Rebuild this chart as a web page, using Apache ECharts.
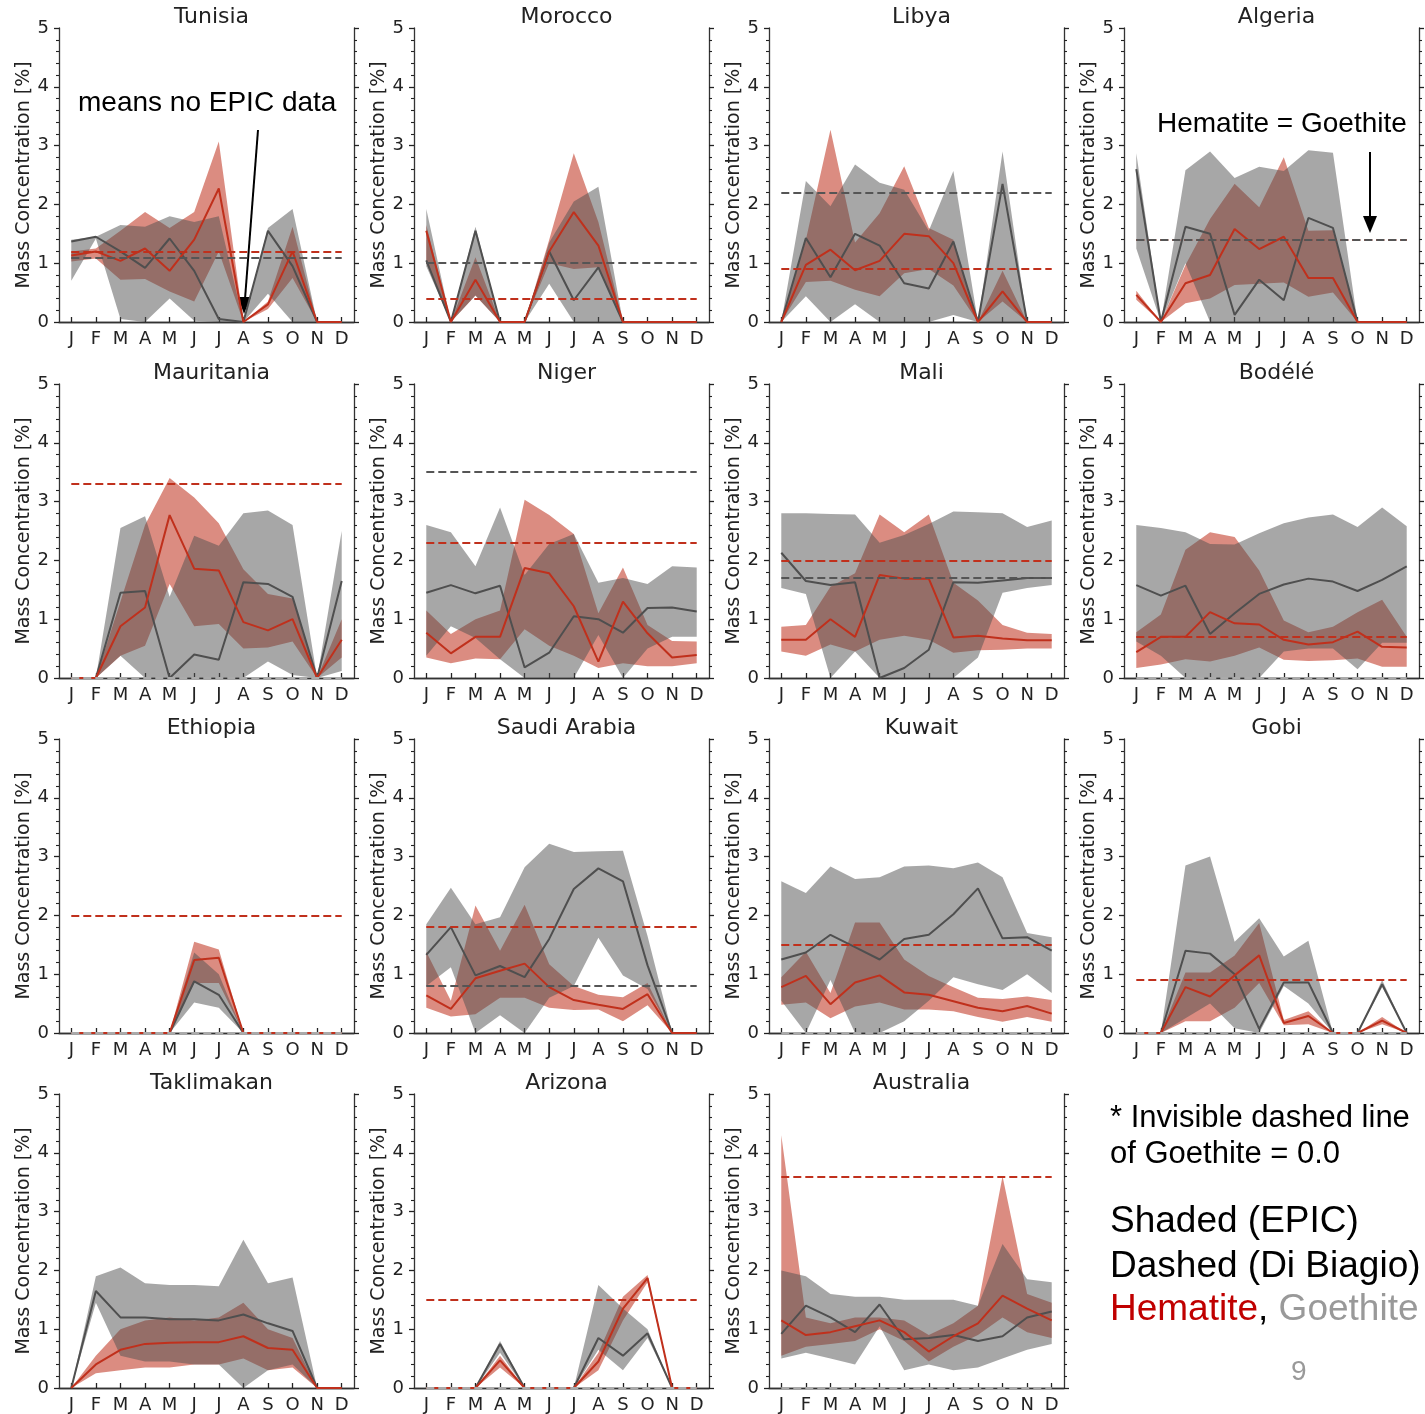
<!DOCTYPE html>
<html>
<head>
<meta charset="utf-8">
<title>Hematite / Goethite mass concentration</title>
<style>
  html, body { margin: 0; padding: 0; background: #fff; }
  #chart { width: 1425px; height: 1414px; }
</style>
</head>
<body>
<div id="chart"></div>
<script src="https://cdn.jsdelivr.net/npm/echarts@6/dist/echarts.min.js"></script>
<script>
var months = ['Jan','Feb','Mar','Apr','May','Jun','Jul','Aug','Sep','Oct','Nov','Dec'];
var yTicks = [0, 1, 2, 3, 4, 5];
var regions = ['Tunisia','Morocco','Libya','Algeria','Mauritania','Niger','Mali','Bodélé',
               'Ethiopia','Saudi Arabia','Kuwait','Gobi','Taklimakan','Arizona','Australia'];

// Di Biagio (dashed), null = not drawn
var dbHem = [1.2, 0.4, 0.9, 1.4, 3.3, 2.3, 2.0, 0.7, 2.0, 1.8, 1.5, 0.9, null, 1.5, 3.6];
var dbGoe = [1.1, 1.0, 2.2, 1.4, 0, 3.5, 1.7, 0, 0, 0.8, 0, 0, null, 0, 0];

// EPIC monthly mean and shaded range, hematite (Hem) and goethite (Goe)
var tunHem   = [1.13,1.2,1.04,1.25,0.87,1.4,2.27,0,0.3,1.2,0,0];
var tunHemLo = [1.03,1.08,0.72,0.73,0.52,0.35,1.2,0,0.22,0.75,0,0];
var tunHemHi = [1.2,1.25,1.55,1.87,1.6,1.87,3.07,0,0.35,1.62,0,0];
var tunGoe   = [1.37,1.45,1.2,0.92,1.42,0.87,0.05,0,1.55,0.95,0,0];
var tunGoeLo = [0.7,1.42,0.05,0,0.4,0.02,0,0,0.48,0,0,0];
var tunGoeHi = [1.4,1.45,1.65,1.62,1.8,1.7,1.8,0,1.6,1.92,0,0];

var morHem   = [1.55,0,0.72,0,0,1.2,1.87,1.3,0,0,0,0];
var morHemLo = [1.0,0,0.45,0,0,1.0,0.9,0.93,0,0,0,0];
var morHemHi = [1.65,0,1.1,0,0,1.4,2.87,1.7,0,0,0,0];
var morGoe   = [1.05,0,1.55,0,0,1.2,0.37,0.93,0,0,0,0];
var morGoeLo = [0.95,0,0.45,0,0,0.65,0,0,0,0,0,0];
var morGoeHi = [1.92,0,1.62,0,0,1.35,2.05,2.3,0,0,0,0];

var libHem   = [0,0.97,1.23,0.88,1.04,1.5,1.46,1.0,0,0.52,0,0];
var libHemLo = [0,0.68,0.7,0.55,0.44,0.83,0.9,0.62,0,0.35,0,0];
var libHemHi = [0,1.4,3.27,1.35,1.85,2.65,1.6,1.4,0,0.87,0,0];
var libGoe   = [0,1.43,0.76,1.5,1.3,0.66,0.57,1.37,0,2.35,0,0];
var libGoeLo = [0,0.44,0,0.3,0,0,0,0.12,0,0,0,0];
var libGoeHi = [0,2.4,1.97,2.68,2.37,2.25,1.55,2.57,0,2.9,0,0];

var algHem   = [0.46,0,0.66,0.8,1.58,1.24,1.45,0.75,0.75,0,0,0];
var algHemLo = [0.38,0,0.32,0.4,0.63,0.65,0.67,0.43,0.5,0,0,0];
var algHemHi = [0.53,0,0.97,1.75,2.35,1.95,2.8,1.55,1.56,0,0,0];
var algGoe   = [2.6,0,1.62,1.5,0.12,0.72,0.37,1.77,1.6,0,0,0];
var algGoeLo = [1.25,0,1.0,0,0,0,0,0,0,0,0,0];
var algGoeHi = [2.87,0,2.58,2.9,2.45,2.64,2.57,2.92,2.88,0,0,0];

var mauHem   = [0,0,0.88,1.2,2.77,1.86,1.83,0.95,0.81,1.0,0,0.65];
var mauHemLo = [0,0,0.38,0.55,1.6,0.88,0.92,0.5,0.52,0.62,0,0.35];
var mauHemHi = [0,0,1.3,2.6,3.4,3.07,2.63,1.85,1.43,1.35,0,1.0];
var mauGoe   = [0,0,1.45,1.48,0,0.4,0.31,1.63,1.6,1.38,0,1.65];
var mauGoeLo = [0,0,0.38,0,0,0,0,0,0.28,0.05,0,0.12];
var mauGoeHi = [0,0,2.55,2.75,1.38,2.42,2.25,2.8,2.85,2.6,0,2.5];

var nigHem   = [0.77,0.42,0.7,0.7,1.87,1.78,1.22,0.28,1.3,0.76,0.35,0.39];
var nigHemLo = [0.35,0.25,0.33,0.32,0.83,0.55,0.38,0.17,0.25,0.2,0.2,0.25];
var nigHemHi = [1.15,0.75,1.0,1.15,3.03,2.77,2.45,1.1,1.88,0.9,0.63,0.62];
var nigGoe   = [1.45,1.58,1.44,1.57,0.18,0.43,1.05,1.0,0.77,1.19,1.2,1.13];
var nigGoeLo = [0.38,0.88,0.68,0.32,0,0,0,0.73,0,0.5,0.7,0.7];
var nigGoeHi = [2.6,2.48,1.9,2.9,1.75,2.28,2.45,1.62,1.7,1.6,1.9,1.88];

var malHem   = [0.65,0.65,1.0,0.7,1.75,1.69,1.69,0.69,0.72,0.67,0.64,0.64];
var malHemLo = [0.45,0.38,0.57,0.45,0.65,0.72,0.65,0.43,0.47,0.48,0.5,0.5];
var malHemHi = [0.87,0.9,1.55,1.78,2.78,2.48,2.78,1.62,1.32,0.9,0.77,0.75];
var malGoe   = [2.13,1.65,1.58,1.63,0,0.17,0.48,1.63,1.62,1.66,1.7,1.7];
var malGoeLo = [1.53,1.43,0,0.45,0,0,0,0,0.35,1.45,1.53,1.58];
var malGoeHi = [2.8,2.8,2.79,2.78,2.3,2.43,2.62,2.83,2.82,2.8,2.57,2.68];

var bodHem   = [0.44,0.7,0.7,1.12,0.93,0.91,0.65,0.57,0.61,0.79,0.53,0.52];
var bodHemLo = [0.17,0.23,0.32,0.28,0.38,0.52,0.31,0.29,0.3,0.33,0.19,0.19];
var bodHemHi = [0.78,1.08,2.18,2.48,2.4,1.83,0.98,0.78,0.87,1.12,1.33,0.7];
var bodGoe   = [1.58,1.4,1.57,0.75,1.1,1.43,1.59,1.69,1.64,1.48,1.67,1.9];
var bodGoeLo = [0.62,0.38,0,0,0,0,0.45,0.5,0.5,0.15,0.6,0.6];
var bodGoeHi = [2.6,2.55,2.48,2.28,2.27,2.46,2.63,2.73,2.78,2.57,2.9,2.58];

var ethHem   = [0,0,0,0,0,1.24,1.28,0,0,0,0,0];
var ethHemLo = [0,0,0,0,0,0.85,0.85,0,0,0,0,0];
var ethHemHi = [0,0,0,0,0,1.55,1.42,0,0,0,0,0];
var ethGoe   = [0,0,0,0,0,0.88,0.65,0,0,0,0,0];
var ethGoeLo = [0,0,0,0,0,0.52,0.43,0,0,0,0,0];
var ethGoeHi = [0,0,0,0,0,1.37,1.0,0,0,0,0,0];

var sauHem   = [0.64,0.41,0.93,1.06,1.18,0.78,0.56,0.48,0.41,0.66,0,0];
var sauHemLo = [0.43,0.28,0.32,0.6,0.6,0.43,0.39,0.4,0.2,0.47,0,0];
var sauHemHi = [1.38,0.55,2.17,1.4,2.18,1.17,0.8,0.65,0.61,0.85,0,0];
var sauGoe   = [1.33,1.8,0.98,1.14,0.95,1.6,2.45,2.8,2.58,1.15,0,0];
var sauGoeLo = [0.8,1.12,0,0.3,0,0.6,0.8,1.62,0.98,0.75,0,0];
var sauGoeHi = [1.85,2.47,1.85,1.97,2.82,3.22,3.08,3.09,3.1,1.65,0,0];

var kuwHem   = [0.78,0.97,0.49,0.86,0.98,0.69,0.65,0.54,0.43,0.37,0.46,0.33];
var kuwHemLo = [0.48,0.52,0.25,0.45,0.52,0.4,0.4,0.37,0.27,0.19,0.27,0.19];
var kuwHemHi = [0.95,1.38,0.68,1.88,1.88,1.25,0.97,0.78,0.6,0.58,0.62,0.56];
var kuwGoe   = [1.25,1.37,1.67,1.46,1.25,1.6,1.67,2.02,2.46,1.61,1.63,1.4];
var kuwGoeLo = [0.55,0,0.9,0,0,0.2,0.55,0.95,0.83,0.73,1.0,0.68];
var kuwGoeHi = [2.58,2.38,2.83,2.62,2.65,2.83,2.85,2.8,2.9,2.65,1.7,1.63];

var gobHem   = [0,0,0.78,0.62,0.98,1.32,0.17,0.29,0,0,0.21,0];
var gobHemLo = [0,0,0.2,0.2,0.43,0.85,0.13,0.15,0,0,0.15,0];
var gobHemHi = [0,0,1.03,1.03,1.32,1.87,0.22,0.37,0,0,0.27,0];
var gobGoe   = [0,0,1.4,1.35,1.0,0.07,0.86,0.86,0,0,0.83,0];
var gobGoeLo = [0,0,0.25,0.5,0.08,0,0.8,0.5,0,0,0.78,0];
var gobGoeHi = [0,0,2.85,3.0,1.55,1.95,1.3,1.57,0,0,0.9,0];

var takHem   = [0,0.4,0.65,0.75,0.77,0.78,0.78,0.88,0.68,0.65,0,0];
var takHemLo = [0,0.25,0.3,0.35,0.35,0.4,0.4,0.5,0.3,0.35,0,0];
var takHemHi = [0,0.55,1.0,1.15,1.2,1.15,1.2,1.45,1.0,0.85,0,0];
var takGoe   = [0,1.65,1.2,1.2,1.17,1.17,1.15,1.25,1.1,0.97,0,0];
var takGoeLo = [0,1.45,0.55,0.45,0.45,0.4,0.4,0,0.3,0.4,0,0];
var takGoeHi = [0,1.9,2.05,1.78,1.75,1.75,1.73,2.52,1.78,1.88,0,0];

var ariHem   = [0,0,0,0.47,0,0,0,0.45,1.35,1.87,0,0];
var ariHemLo = [0,0,0,0.35,0,0,0,0.3,1.15,1.8,0,0];
var ariHemHi = [0,0,0,0.55,0,0,0,0.6,1.55,1.92,0,0];
var ariGoe   = [0,0,0,0.75,0,0,0,0.85,0.55,0.93,0,0];
var ariGoeLo = [0,0,0,0.6,0,0,0,0.65,0.3,0.85,0,0];
var ariGoeHi = [0,0,0,0.8,0,0,0,1.75,1.35,1.0,0,0];

var ausHem   = [1.15,0.9,0.95,1.05,1.15,0.95,0.62,0.88,1.1,1.57,1.35,1.15];
var ausHemLo = [0.55,0.7,0.75,0.8,1.0,0.8,0.45,0.7,0.9,1.2,0.95,0.85];
var ausHemHi = [4.3,1.2,1.1,1.2,1.2,1.15,0.9,1.1,1.4,3.6,1.6,1.45];
var ausGoe   = [0.92,1.4,1.2,0.95,1.42,0.83,0.85,0.9,0.8,0.88,1.2,1.3];
var ausGoeLo = [0.5,0.6,0.5,0.4,1.05,0.3,0.4,0.3,0.35,0.5,0.65,0.75];
var ausGoeHi = [2.0,1.9,1.6,1.55,1.55,1.5,1.5,1.5,1.4,2.45,1.85,1.8];

var panels = [
  [tunHem, tunHemLo, tunHemHi, tunGoe, tunGoeLo, tunGoeHi],
  [morHem, morHemLo, morHemHi, morGoe, morGoeLo, morGoeHi],
  [libHem, libHemLo, libHemHi, libGoe, libGoeLo, libGoeHi],
  [algHem, algHemLo, algHemHi, algGoe, algGoeLo, algGoeHi],
  [mauHem, mauHemLo, mauHemHi, mauGoe, mauGoeLo, mauGoeHi],
  [nigHem, nigHemLo, nigHemHi, nigGoe, nigGoeLo, nigGoeHi],
  [malHem, malHemLo, malHemHi, malGoe, malGoeLo, malGoeHi],
  [bodHem, bodHemLo, bodHemHi, bodGoe, bodGoeLo, bodGoeHi],
  [ethHem, ethHemLo, ethHemHi, ethGoe, ethGoeLo, ethGoeHi],
  [sauHem, sauHemLo, sauHemHi, sauGoe, sauGoeLo, sauGoeHi],
  [kuwHem, kuwHemLo, kuwHemHi, kuwGoe, kuwGoeLo, kuwGoeHi],
  [gobHem, gobHemLo, gobHemHi, gobGoe, gobGoeLo, gobGoeHi],
  [takHem, takHemLo, takHemHi, takGoe, takGoeLo, takGoeHi],
  [ariHem, ariHemLo, ariHemHi, ariGoe, ariGoeLo, ariGoeHi],
  [ausHem, ausHemLo, ausHemHi, ausGoe, ausGoeLo, ausGoeHi]
];

var RED = '#c0301c', GREY = '#4f4f4f';
var RED_FILL = 'rgba(190,45,25,0.55)', GREY_FILL = 'rgba(80,80,80,0.5)';
var AXIS = '#333';
var FONT = 'DejaVu Sans';
var lefts = [59, 414, 769, 1124];
var tops = [28, 384, 739, 1094];
var W = 295, H = 294;

var chart = echarts.init(document.getElementById('chart'));
var option = { animation: false, backgroundColor: '#fff',
  title: [], grid: [], xAxis: [], yAxis: [], series: [], graphic: [] };

function band(lo, hi, stack, fill, xi, yi) {
  var diff = hi.map(function (h, k) { return Math.round((h - lo[k]) * 1000) / 1000; });
  var base = { type: 'line', xAxisIndex: xi, yAxisIndex: yi, stack: stack, symbol: 'none',
               silent: true, lineStyle: { width: 0, opacity: 0 } };
  return [
    Object.assign({}, base, { data: lo }),
    Object.assign({}, base, { data: diff, areaStyle: { color: fill, opacity: 1 } })
  ];
}

regions.forEach(function (name, i) {
  var l = lefts[i % 4], t = tops[Math.floor(i / 4)];
  var p = panels[i];
  option.grid.push({ left: l, top: t, width: W, height: H });
  option.title.push({ text: name, left: l + W / 2, top: t - 27, textAlign: 'center',
    textStyle: { fontFamily: FONT, fontSize: 22, fontWeight: 'normal', color: '#222' } });

  var line = { show: true, lineStyle: { color: AXIS, width: 1.3 } };
  option.xAxis.push({ gridIndex: i, type: 'category', data: months, boundaryGap: true,
    axisLine: line, axisTick: { show: false }, splitLine: { show: false },
    axisLabel: { interval: 0, margin: 8, fontSize: 18, fontFamily: FONT, color: '#222',
      formatter: function (v) { return v.charAt(0); } } });
  option.xAxis.push({ gridIndex: i, type: 'category', data: months, boundaryGap: true,
    position: 'top', axisLine: line, splitLine: { show: false }, axisLabel: { show: false },
    axisTick: { show: true, alignWithLabel: true, interval: 0, length: 5,
      lineStyle: { color: '#222', width: 1.3 } } });
  var yBase = { gridIndex: i, type: 'value', min: yTicks[0], max: yTicks[yTicks.length - 1],
    interval: 1, axisLine: line, splitLine: { show: false }, minorSplitLine: { show: false },
    axisTick: { show: true, length: 5, lineStyle: { color: '#222', width: 1.3 } },
    minorTick: { show: true, splitNumber: 5, length: 3, lineStyle: { color: '#222', width: 1.1 } } };
  option.yAxis.push(Object.assign({}, yBase, {
    name: 'Mass Concentration [%]', nameLocation: 'middle', nameGap: 25,
    nameTextStyle: { fontFamily: FONT, fontSize: 19, color: '#222' },
    axisLabel: { margin: 10, fontSize: 18, fontFamily: FONT, color: '#222' } }));
  option.yAxis.push(Object.assign({}, yBase, { position: 'right', axisLabel: { show: false } }));

  var xi = 2 * i, yi = 2 * i;
  option.series = option.series
    .concat(band(p[1], p[2], 'hem' + i, RED_FILL, xi, yi))
    .concat(band(p[4], p[5], 'goe' + i, GREY_FILL, xi, yi));

  var dashed = [];
  if (dbHem[i] !== null) dashed.push([
    { coord: [0, dbHem[i]], lineStyle: { color: RED, width: 1.8, type: [8, 4] } },
    { coord: [11, dbHem[i]] }]);
  if (dbGoe[i] !== null) dashed.push([
    { coord: [0, dbGoe[i]], lineStyle: { color: dbGoe[i] === 0 ? '#aaa' : '#555', width: 1.8, type: [8, 4] } },
    { coord: [11, dbGoe[i]] }]);

  option.series.push({ type: 'line', name: 'Goethite', xAxisIndex: xi, yAxisIndex: yi, data: p[3],
    symbol: 'none', silent: true, lineStyle: { color: GREY, width: 2 } });
  option.series.push({ type: 'line', name: 'Hematite', xAxisIndex: xi, yAxisIndex: yi, data: p[0],
    symbol: 'none', silent: true, lineStyle: { color: RED, width: 2 },
    markLine: { silent: true, symbol: ['none', 'none'], label: { show: false }, data: dashed } });
});

var TXT = 'Liberation Sans';
option.graphic = [
  { type: 'text', left: 78, top: 89, style: { text: 'means no EPIC data', font: '28px ' + TXT, fill: '#000' } },
  { type: 'line', shape: { x1: 258, y1: 130, x2: 245, y2: 299 }, style: { stroke: '#000', lineWidth: 2 } },
  { type: 'polygon', shape: { points: [[244, 314], [251, 297], [238, 297]] }, style: { fill: '#000' } },
  { type: 'text', left: 1157, top: 110, style: { text: 'Hematite = Goethite', font: '28px ' + TXT, fill: '#000' } },
  { type: 'line', shape: { x1: 1370, y1: 152, x2: 1370, y2: 218 }, style: { stroke: '#000', lineWidth: 2 } },
  { type: 'polygon', shape: { points: [[1370, 233], [1363, 216], [1377, 216]] }, style: { fill: '#000' } },
  { type: 'text', left: 1110, top: 1103, style: { text: '* Invisible dashed line', font: '31px ' + TXT, fill: '#000' } },
  { type: 'text', left: 1110, top: 1139, style: { text: 'of Goethite = 0.0', font: '31px ' + TXT, fill: '#000' } },
  { type: 'text', left: 1110, top: 1203, style: { text: 'Shaded (EPIC)', font: '37px ' + TXT, fill: '#000' } },
  { type: 'text', left: 1110, top: 1248, style: { text: 'Dashed (Di Biagio)', font: '37px ' + TXT, fill: '#000' } },
  { type: 'text', left: 1110, top: 1291, style: {
      text: '{r|Hematite}{k|, }{g|Goethite}',
      rich: { r: { font: '37px ' + TXT, fill: '#c00000' },
              k: { font: '37px ' + TXT, fill: '#000' },
              g: { font: '37px ' + TXT, fill: '#999' } } } },
  { type: 'text', left: 1291, top: 1358, style: { text: '9', font: '28px ' + TXT, fill: '#999' } }
];

chart.setOption(option);
</script>
</body>
</html>
